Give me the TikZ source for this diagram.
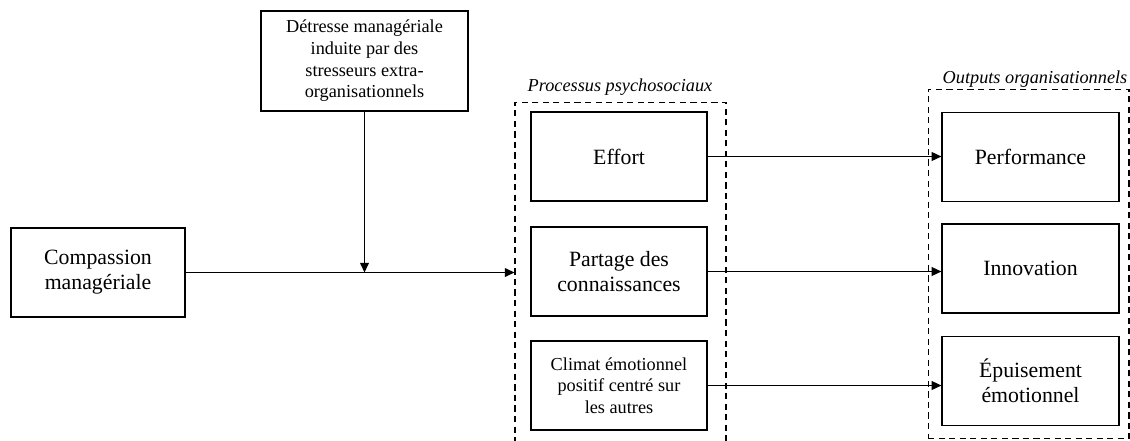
\documentclass[tikz,border=0pt]{standalone}
\usepackage{fontspec}
\setmainfont{Liberation Serif}
\usetikzlibrary{arrows.meta}
\tikzset{%
  box/.style={draw, line width=0.7pt, minimum width=3.52cm, minimum height=1.78cm, align=center, inner sep=0pt, font=\fontsize{12.4}{14.2}\selectfont},%
  smallbox/.style={box, font=\fontsize{10.4}{12.3}\selectfont},%
  grp/.style={draw, line width=0.6pt, dash pattern=on 3.5pt off 2.5pt, inner sep=0pt},%
  grplabel/.style={font=\fontsize{10.4}{12.3}\selectfont\itshape},%
  arr/.style={-{Triangle[length=5.5pt,width=5pt]}, line width=0.7pt}%
}

\begin{document}
\begin{tikzpicture}[x=0.02cm, y=-0.02cm]%
\useasboundingbox (0,0) rectangle (1130,440);%
% groupes en pointilles
\node[grp, minimum width=4.22cm, minimum height=7cm] (proc) at (620.5,277) {};%
\node[grp, minimum width=4.02cm, minimum height=7cm] (outp) at (1028.5,264) {};%
\node[grplabel] (proclab) at (620,87) {Processus psychosociaux};%
\node[grplabel] (outlab) at (1035,79) {Outputs organisationnels};%
% boites
\node[box, minimum width=3.48cm] (comp) at (98,272.5) {Compassion\\managériale};%
\node[smallbox, minimum width=4.14cm, minimum height=2cm] (det) at (364.5,61) {Détresse managériale\\induite par des\\stresseurs extra-\\organisationnels};%
\node[box] (eff) at (619,156.5) {Effort};%
\node[box] (part) at (619,271.5) {Partage des\\connaissances};%
\node[smallbox] (clim) at (619,385.5) {Climat émotionnel\\positif centré sur\\les autres};%
\node[box, minimum width=3.54cm] (perf) at (1030.5,157) {Performance};%
\node[box, minimum width=3.54cm] (inno) at (1030.5,268.5) {Innovation};%
\node[box, minimum width=3.54cm] (epui) at (1030.5,381) {Épuisement\\émotionnel};%
% fleches
\draw[arr] (det.south) -- (det.south |- comp.east);%
\draw[arr] (comp.east) -- (comp.east -| proc.west);%
\draw[arr] (eff.east) -- (eff.east -| perf.west);%
\draw[arr] (part.east) -- (part.east -| inno.west);%
\draw[arr] (clim.east) -- (clim.east -| epui.west);%
\end{tikzpicture}
\end{document}
